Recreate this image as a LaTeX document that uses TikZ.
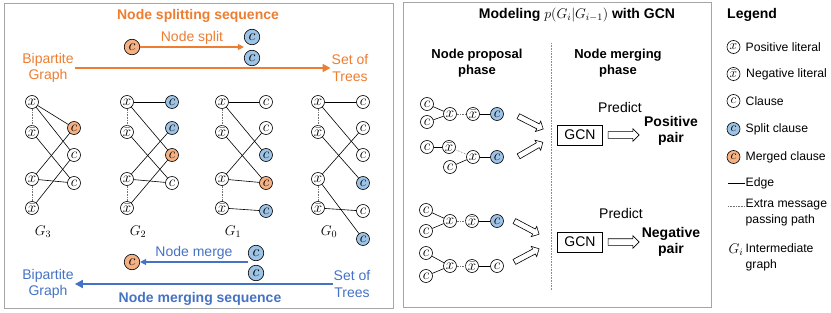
\RequirePackage{fix-cm}
\documentclass[tikz,border=0pt]{standalone}
\usepackage{fontspec}
\setmainfont{Liberation Sans}
\usepackage{amsmath,amssymb}
\usepackage{xcolor}
\usepackage{tikz}
\usetikzlibrary{shapes.arrows, arrows.meta, positioning, calc}
\definecolor{splitorange}{RGB}{237,125,49}
\definecolor{mergeblue}{RGB}{68,114,196}
\definecolor{splitfill}{RGB}{157,195,230}
\definecolor{mergefill}{RGB}{244,177,131}
\definecolor{panelgrey}{RGB}{165,165,165}

\begin{document}
\begin{tikzpicture}[x=1pt, y=-1pt,
        lit/.style={circle, draw, line width=0.6pt, fill=white, inner sep=-1pt, minimum size=13pt, font=\fontsize{15}{15}\selectfont},
        splitcl/.style={lit, fill=splitfill},
        mergecl/.style={lit, fill=mergefill},
        bigcl/.style={lit, minimum size=15.5pt, font=\fontsize{16}{16}\selectfont},
        legcl/.style={lit, inner sep=0pt, font=\fontsize{13.5}{13.5}\selectfont},
        edge/.style={draw, line width=0.6pt},
        extra/.style={draw, densely dotted, line width=0.6pt, black!55},
        seqline/.style={draw, line width=1.1pt, -{Triangle[length=6pt, width=6pt]}},
        longline/.style={draw, line width=1.8pt, -{Triangle[length=8pt, width=8pt]}},
        seqtext/.style={align=center, font=\fontsize{14}{16.5}\selectfont, inner sep=1pt},
        heading/.style={align=center, font=\bfseries\fontsize{14}{16.5}\selectfont},
        glabel/.style={font=\fontsize{14}{14}\selectfont},
        hollow/.style={single arrow, draw, line width=0.6pt, inner sep=2.5pt, minimum height=28pt, single arrow head extend=3pt},
        gcnbox/.style={rectangle, draw, line width=0.7pt, minimum width=45pt, minimum height=20pt, font=\fontsize{14}{16}\selectfont},
        legtext/.style={anchor=west, align=left, inner sep=1pt, font=\fontsize{12.2}{16}\selectfont}]

    \useasboundingbox (0,0) rectangle (831,313);

    % Panels
    \draw[panelgrey, line width=1pt] (4,4) rectangle (393,308);
    \draw[panelgrey, line width=1pt] (403,3) rectangle (711,307);

    % Node splitting sequence
    \node[heading, text=splitorange] (splitseq) at (198,16) {Node splitting sequence};
    \node[bigcl, fill=mergefill] (topm) at (132,47) {$c$};
    \node[bigcl, fill=splitfill] (tops1) at (252,37) {$c$};
    \node[bigcl, fill=splitfill] (tops2) at (252,58) {$c$};
    \coordinate (topsplit) at ($(tops1.west)!0.5!(tops2.west)$);
    \path[seqline, splitorange] (topm) -- (topm -| topsplit)
        node[midway, above, seqtext, yshift=1pt] {Node split};
    \node[seqtext, text=splitorange] (topbg) at (48,68) {Bipartite\\Graph};
    \node[seqtext, text=splitorange] (topst) at (350,68) {Set of\\Trees};
    \path[longline, splitorange] (topbg) -- (topst);

    % Intermediate graphs
    \foreach \g/\gx in {3/32, 2/127, 1/222, 0/318} {
        \node[lit] (g\g x1) at (\gx,102) {$x$};
        \node[lit] (g\g n1) at (\gx,132) {$\bar{x}$};
        \node[lit] (g\g x2) at (\gx,179) {$x$};
        \node[lit] (g\g n2) at (\gx,208) {$\bar{x}$};
        \draw[extra] (g\g x1) -- (g\g n1);
        \draw[extra] (g\g x2) -- (g\g n2);
        \node[glabel] (lab\g) at (\gx+11,232) {$G_{\g}$};
    }
    \node[mergecl] (g3c1) at (74,128) {$c$};
    \node[lit] (g3c2) at (74,155) {$c$};
    \node[lit] (g3c3) at (74,183) {$c$};

    \node[splitcl] (g2c1) at (172,102) {$c$};
    \node[splitcl] (g2c2) at (172,128) {$c$};
    \node[mergecl] (g2c3) at (172,155) {$c$};
    \node[lit] (g2c4) at (172,183) {$c$};

    \node[lit] (g1c1) at (266,102) {$c$};
    \node[lit] (g1c2) at (266,128) {$c$};
    \node[splitcl] (g1c3) at (266,155) {$c$};
    \node[mergecl] (g1c4) at (266,183) {$c$};
    \node[splitcl] (g1c5) at (266,211) {$c$};

    \node[lit] (g0c1) at (363,102) {$c$};
    \node[lit] (g0c2) at (363,128) {$c$};
    \node[lit] (g0c3) at (363,155) {$c$};
    \node[splitcl] (g0c4) at (363,183) {$c$};
    \node[lit] (g0c5) at (363,211) {$c$};
    \node[splitcl] (g0c6) at (363,239) {$c$};

    \foreach \a/\b in {g3x1/g3c1, g3x1/g3c2, g3n1/g3c3, g3x2/g3c1, g3x2/g3c3, g3n2/g3c2,
                       g2x1/g2c1, g2x1/g2c3, g2n1/g2c4, g2x2/g2c2, g2x2/g2c4, g2n2/g2c3,
                       g1x1/g1c1, g1x1/g1c3, g1n1/g1c4, g1x2/g1c2, g1x2/g1c4, g1n2/g1c5,
                       g0x1/g0c1, g0x1/g0c3, g0n1/g0c4, g0x2/g0c2, g0x2/g0c6, g0n2/g0c5}
        \draw[edge] (\a) -- (\b);

    % Node merging sequence
    \node[bigcl, fill=mergefill] (botm) at (132,262) {$c$};
    \node[bigcl, fill=splitfill] (bots1) at (256,253) {$c$};
    \node[bigcl, fill=splitfill] (bots2) at (256,273) {$c$};
    \coordinate (botsplit) at ($(bots1.west)!0.5!(bots2.west)$);
    \path[seqline, mergeblue] (botm -| botsplit) -- (botm)
        node[midway, above, seqtext, yshift=1pt] {Node merge};
    \node[seqtext, text=mergeblue] (botbg) at (48,284) {Bipartite\\Graph};
    \node[seqtext, text=mergeblue] (botst) at (352,284) {Set of\\Trees};
    \path[longline, mergeblue] (botst) -- (botbg);
    \node[heading, text=mergeblue] (mergeseq) at (200,299) {Node merging sequence};

    % Modeling panel
    \node[heading] (modeltitle) at (577,15) {Modeling $p(G_i\vert G_{i-1})$ with GCN};
    \node[heading, font=\bfseries\fontsize{13}{16}\selectfont] (propphase) at (477,63) {Node proposal\\phase};
    \node[heading, font=\bfseries\fontsize{13}{16}\selectfont] (mergephase) at (618,63) {Node merging\\phase};
    \coordinate (divtop) at (551,43);
    \coordinate (divbot) at (551,290);
    \draw[extra, black!45] (divtop) -- (divbot);

    % positive pair candidates
    \node[lit] (pac1) at (427,104) {$c$};
    \node[lit] (pac2) at (427,122) {$c$};
    \node[lit] (pax) at (450,114) {$x$};
    \node[lit] (pan) at (473,114) {$\bar{x}$};
    \node[splitcl] (pac3) at (497,114) {$c$};
    \draw[edge] (pac1) -- (pax);
    \draw[edge] (pac2) -- (pax);
    \draw[extra] (pax) -- (pan);
    \draw[edge] (pan) -- (pac3);

    \node[lit] (pbc1) at (427,147) {$c$};
    \node[lit] (pbn) at (449,147) {$\bar{x}$};
    \node[lit] (pbx) at (473,157) {$x$};
    \node[splitcl] (pbc2) at (497,157) {$c$};
    \node[lit] (pbc3) at (450,167) {$c$};
    \draw[edge] (pbc1) -- (pbn);
    \draw[extra] (pbn) -- (pbx);
    \draw[edge] (pbx) -- (pbc2);
    \draw[edge] (pbc3) -- (pbx);

    \node[hollow, rotate=-27] (pha) at (529.5,122) {};
    \node[hollow, rotate=30] (phb) at (529.5,150) {};

    \node[gcnbox] (gcnp) at (580,135) {GCN};
    \node[hollow, minimum height=31pt, inner sep=3pt] (pgo) at (622,135) {};
    \node[seqtext] (predp) at (620,107) {Predict};
    \node[heading] (pospair) at (671,131) {Positive\\pair};

    % negative pair candidates
    \node[lit] (nac1) at (426,210) {$c$};
    \node[lit] (nac2) at (426,231) {$c$};
    \node[lit] (nax) at (450,221) {$x$};
    \node[lit] (nan) at (472,221) {$\bar{x}$};
    \node[splitcl] (nac3) at (497,221) {$c$};
    \draw[edge] (nac1) -- (nax);
    \draw[edge] (nac2) -- (nax);
    \draw[extra] (nax) -- (nan);
    \draw[edge] (nan) -- (nac3);

    \node[lit] (nbc1) at (426,253) {$c$};
    \node[lit] (nbc2) at (426,276) {$c$};
    \node[lit] (nbx) at (450,266) {$x$};
    \node[lit] (nbn) at (472,266) {$\bar{x}$};
    \node[lit] (nbc3) at (497,266) {$c$};
    \draw[edge] (nbc1) -- (nbx);
    \draw[edge] (nbc2) -- (nbx);
    \draw[extra] (nbx) -- (nbn);
    \draw[edge] (nbn) -- (nbc3);

    \node[hollow, rotate=-28] (nha) at (525.5,227) {};
    \node[hollow, rotate=28] (nhb) at (525.5,256) {};

    \node[gcnbox] (gcnn) at (580,242) {GCN};
    \node[hollow, minimum height=31pt, inner sep=3pt] (ngo) at (622,242) {};
    \node[seqtext] (predn) at (621,213) {Predict};
    \node[heading] (negpair) at (671,242) {Negative\\pair};

    % Legend
    \node[heading, anchor=west, inner sep=0pt] (legend) at (727,15) {Legend};
    \node[legcl] (lgpos) at (733.5,47) {$x$};
    \node[legtext] (lgpost) at (744.5,47) {Positive literal};
    \node[legcl] (lgneg) at (733.5,74) {$\bar{x}$};
    \node[legtext] (lgnegt) at (745,74) {Negative literal};
    \node[legcl] (lgcl) at (733.5,101) {$c$};
    \node[legtext] (lgclt) at (744.5,101) {Clause};
    \node[legcl, fill=splitfill] (lgsp) at (733.5,129) {$c$};
    \node[legtext] (lgspt) at (744.5,129) {Split clause};
    \node[legcl, fill=mergefill] (lgmg) at (733.5,157) {$c$};
    \node[legtext] (lgmgt) at (744.5,157) {Merged clause};
    \coordinate (lgea) at (728,183);
    \node[legtext] (lgedt) at (744.5,183) {Edge};
    \draw[edge] (lgea) -- (lgedt);
    \coordinate (lgxa) at (728,206);
    \node[legtext, anchor=north west] (lgext) at (744.5,198) {Extra message\\passing path};
    \draw[extra] (lgxa) -- (lgxa -| lgext.west);
    \node[legtext, anchor=north west] (lggit) at (744.5,242) {Intermediate\\graph};
    \node[glabel, anchor=east, inner sep=1pt, yshift=-8pt] (lggi) at (lggit.north west) {$G_i$};
\end{tikzpicture}
\end{document}
